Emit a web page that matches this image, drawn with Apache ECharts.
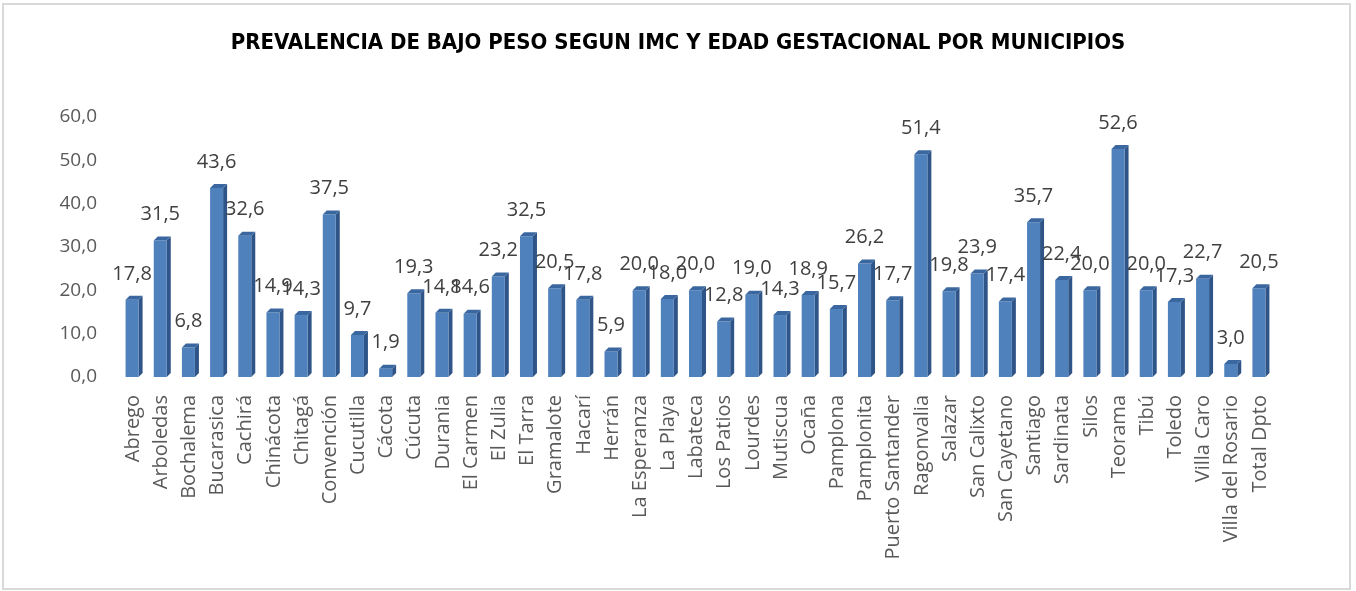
<!DOCTYPE html>
<html>
<head>
<meta charset="utf-8">
<script src="https://cdn.jsdelivr.net/npm/echarts@6/dist/echarts.min.js"></script>
<style>
  html, body { margin: 0; padding: 0; background: #fff; }
  #chart { width: 1356px; height: 591px; }
</style>
</head>
<body>
<div id="chart"></div>
<script>
const municipios = [
  'Abrego', 'Arboledas', 'Bochalema', 'Bucarasica', 'Cachirá', 'Chinácota', 'Chitagá',
  'Convención', 'Cucutilla', 'Cácota', 'Cúcuta', 'Durania', 'El Carmen', 'El Zulia',
  'El Tarra', 'Gramalote', 'Hacarí', 'Herrán', 'La Esperanza', 'La Playa', 'Labateca',
  'Los Patios', 'Lourdes', 'Mutiscua', 'Ocaña', 'Pamplona', 'Pamplonita',
  'Puerto Santander', 'Ragonvalia', 'Salazar', 'San Calixto', 'San Cayetano',
  'Santiago', 'Sardinata', 'Silos', 'Teorama', 'Tibú', 'Toledo', 'Villa Caro',
  'Villa del Rosario', 'Total Dpto'
]
const prevalencia = [
  17.8, 31.5, 6.8, 43.6, 32.6, 14.9, 14.3,
  37.5, 9.7, 1.9, 19.3, 14.8, 14.6, 23.2,
  32.5, 20.5, 17.8, 5.9, 20.0, 18.0, 20.0,
  12.8, 19.0, 14.3, 18.9, 15.7, 26.2,
  17.7, 51.4, 19.8, 23.9, 17.4,
  35.7, 22.4, 20.0, 52.6, 20.0, 17.3, 22.7,
  3.0, 20.5
]
const yTicks = { min: 0, max: 60, interval: 10 }

const fmt = v => v.toFixed(1).replace('.', ',')
const font = '"Open Sans", "Liberation Sans", sans-serif'

const chart = echarts.init(document.getElementById('chart'))

// barra con efecto 3D: frente, lado y tapa
function renderBar(params, api) {
  const idx = api.value(0)
  const val = api.value(1)
  const base = api.coord([idx, 0])
  const top = api.coord([idx, val])
  const w = 13, d = 4
  const l = base[0] - w / 2 - 1
  const r = l + w
  const y0 = base[1]
  const y1 = top[1]
  return {
    type: 'group',
    children: [
      {
        type: 'polygon',
        shape: { points: [[r, y1], [r + d, y1 - d], [r + d, y0 - d], [r, y0]] },
        style: { fill: '#2f5588' }
      },
      {
        type: 'rect',
        shape: { x: l, y: y1, width: w, height: y0 - y1 },
        style: { fill: '#4f81bd' }
      },
      {
        type: 'polygon',
        shape: { points: [[l, y1], [l + d, y1 - d], [r + d, y1 - d], [r, y1]] },
        style: { fill: '#3b67a0' }
      },
      {
        type: 'text',
        style: {
          text: fmt(val),
          x: l + w / 2,
          y: y1 - 26,
          align: 'center',
          verticalAlign: 'middle',
          fill: '#404040',
          font: '20px ' + font
        }
      }
    ]
  }
}

chart.setOption({
  animation: false,
  title: {
    text: 'PREVALENCIA DE BAJO PESO SEGUN IMC Y EDAD GESTACIONAL POR MUNICIPIOS',
    left: 'center',
    top: 27,
    textStyle: {
      fontFamily: '"Liberation Sans Narrow", "DejaVu Sans Condensed", sans-serif',
      fontWeight: 'bold',
      fontSize: 22,
      color: '#000'
    }
  },
  graphic: [{
    type: 'rect',
    shape: { x: 3, y: 4, width: 1347, height: 585 },
    style: { fill: 'none', stroke: '#d9d9d9', lineWidth: 2 },
    silent: true
  }],
  grid: { left: 119, right: 82, top: 117, bottom: 214 },
  xAxis: {
    type: 'category',
    data: municipios,
    axisLine: { show: false },
    axisTick: { show: false },
    axisLabel: {
      interval: 0,
      rotate: 90,
      margin: 18,
      fontSize: 20,
      fontFamily: font,
      color: '#595959'
    }
  },
  yAxis: {
    type: 'value',
    min: yTicks.min,
    max: yTicks.max,
    interval: yTicks.interval,
    splitLine: { show: false },
    axisLine: { show: false },
    axisTick: { show: false },
    axisLabel: {
      margin: 22,
      fontSize: 19,
      fontFamily: font,
      color: '#595959',
      formatter: fmt
    }
  },
  series: [{
    type: 'custom',
    renderItem: renderBar,
    encode: { x: 0, y: 1 },
    data: prevalencia.map((v, i) => [i, v])
  }]
})
</script>
</body>
</html>
